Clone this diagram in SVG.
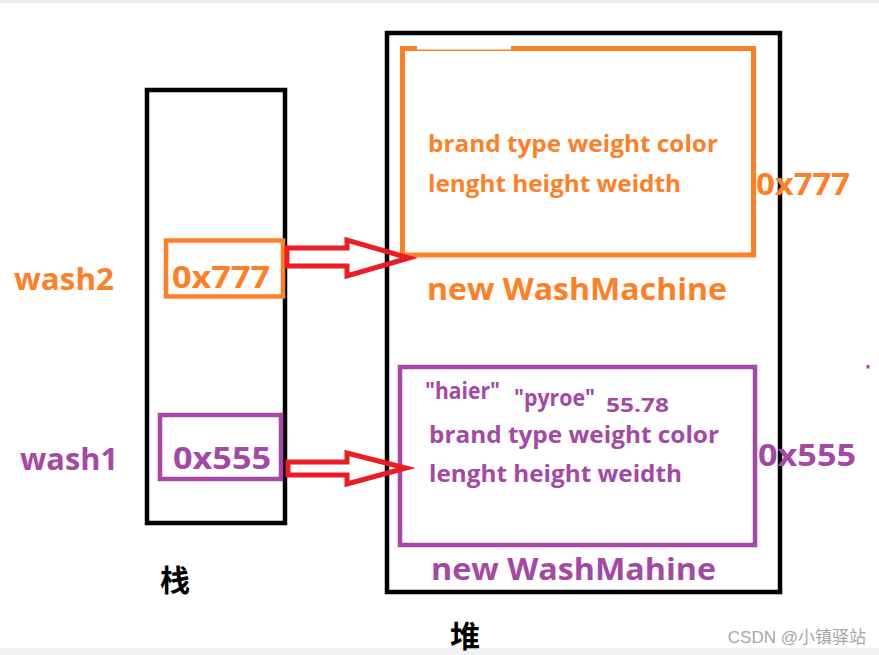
<svg xmlns="http://www.w3.org/2000/svg" width="879" height="655" viewBox="0 0 879 655">
<style>
.t{font-family:"Open Sans","Noto Sans","Liberation Sans",sans-serif;font-weight:bold}
.o{fill:#FF7F27}
.p{fill:#A349A4}
.box{fill:none;stroke-width:4.5}
.arr{fill:none;stroke:#ED1C24;stroke-width:5;stroke-linejoin:miter}
.cjk{font-family:"Noto Sans CJK SC",sans-serif;font-weight:bold;fill:#000}
</style>
<rect x="0" y="0" width="879" height="655" fill="#fff"/>
<rect x="0" y="0" width="879" height="3" fill="#ebebeb"/>
<rect x="0" y="648" width="879" height="7" fill="#f2f2f2"/>

<g id="stack">
  <rect x="147" y="90" width="138" height="433" class="box" stroke="#000"/>
  <text class="cjk" x="175" y="591" font-size="30" text-anchor="middle">栈</text>
</g>
<g id="heap">
  <rect x="387" y="33" width="393" height="559" class="box" stroke="#000"/>
  <text class="cjk" x="465" y="647" font-size="30" text-anchor="middle">堆</text>
</g>

<g id="wash2">
  <text class="t o" x="14" y="290" font-size="30" textLength="100" lengthAdjust="spacingAndGlyphs">wash2</text>
  <rect x="166" y="240.5" width="117" height="56" class="box" stroke="#FF7F27"/>
  <text class="t o" x="172" y="288" font-size="30" textLength="98" lengthAdjust="spacingAndGlyphs">0x777</text>
</g>
<g id="wash1">
  <text class="t p" x="20" y="470" font-size="30" textLength="98" lengthAdjust="spacingAndGlyphs">wash1</text>
  <rect x="160" y="415" width="121" height="64" class="box" stroke="#A349A4"/>
  <text class="t p" x="173" y="469" font-size="30" textLength="98" lengthAdjust="spacingAndGlyphs">0x555</text>
</g>

<g id="obj1">
  <rect x="402.5" y="48.5" width="351" height="206.5" stroke-width="5" fill="none" stroke="#FF7F27"/>
  <rect x="417" y="45.5" width="94" height="4" fill="#fff"/>
  <text class="t o" x="428" y="152" font-size="24" textLength="290" lengthAdjust="spacingAndGlyphs">brand type weight color</text>
  <text class="t o" x="428" y="192" font-size="24" textLength="253" lengthAdjust="spacingAndGlyphs">lenght height weidth</text>
  <text class="t o" x="756" y="195" font-size="30" textLength="94" lengthAdjust="spacingAndGlyphs">0x777</text>
  <text class="t o" x="427" y="300" font-size="30" textLength="300" lengthAdjust="spacingAndGlyphs">new WashMachine</text>
</g>

<g id="obj2">
  <rect x="400" y="367" width="355" height="178" class="box" stroke="#A349A4"/>
  <text class="t p" x="425" y="399" font-size="23" textLength="75" lengthAdjust="spacingAndGlyphs">"haier"</text>
  <text class="t p" x="514" y="406" font-size="23" textLength="81" lengthAdjust="spacingAndGlyphs">"pyroe"</text>
  <text class="t p" x="606" y="412" font-size="20" textLength="63" lengthAdjust="spacingAndGlyphs">55.78</text>
  <text class="t p" x="429" y="443" font-size="23" textLength="290" lengthAdjust="spacingAndGlyphs">brand type weight color</text>
  <text class="t p" x="429" y="482" font-size="24" textLength="253" lengthAdjust="spacingAndGlyphs">lenght height weidth</text>
  <text class="t p" x="758" y="466" font-size="30" textLength="98" lengthAdjust="spacingAndGlyphs">0x555</text>
  <text class="t p" x="431" y="580" font-size="30" textLength="285" lengthAdjust="spacingAndGlyphs">new WashMahine</text>
</g>

<g id="connectors">
  <polygon class="arr" points="287,248 347,248 347,240 409,258 347,276 347,266 287,266"/>
  <polygon class="arr" points="288,462 347,462 347,453 406,468 347,484 347,475 288,475"/>
</g>

<rect x="866.5" y="365" width="3" height="3.5" fill="#A349A4"/>
<text x="866" y="643" font-family="'Liberation Sans','Noto Sans CJK SC',sans-serif" font-size="17" fill="#a6a6a6" text-anchor="end">CSDN @小镇驿站</text>
</svg>
